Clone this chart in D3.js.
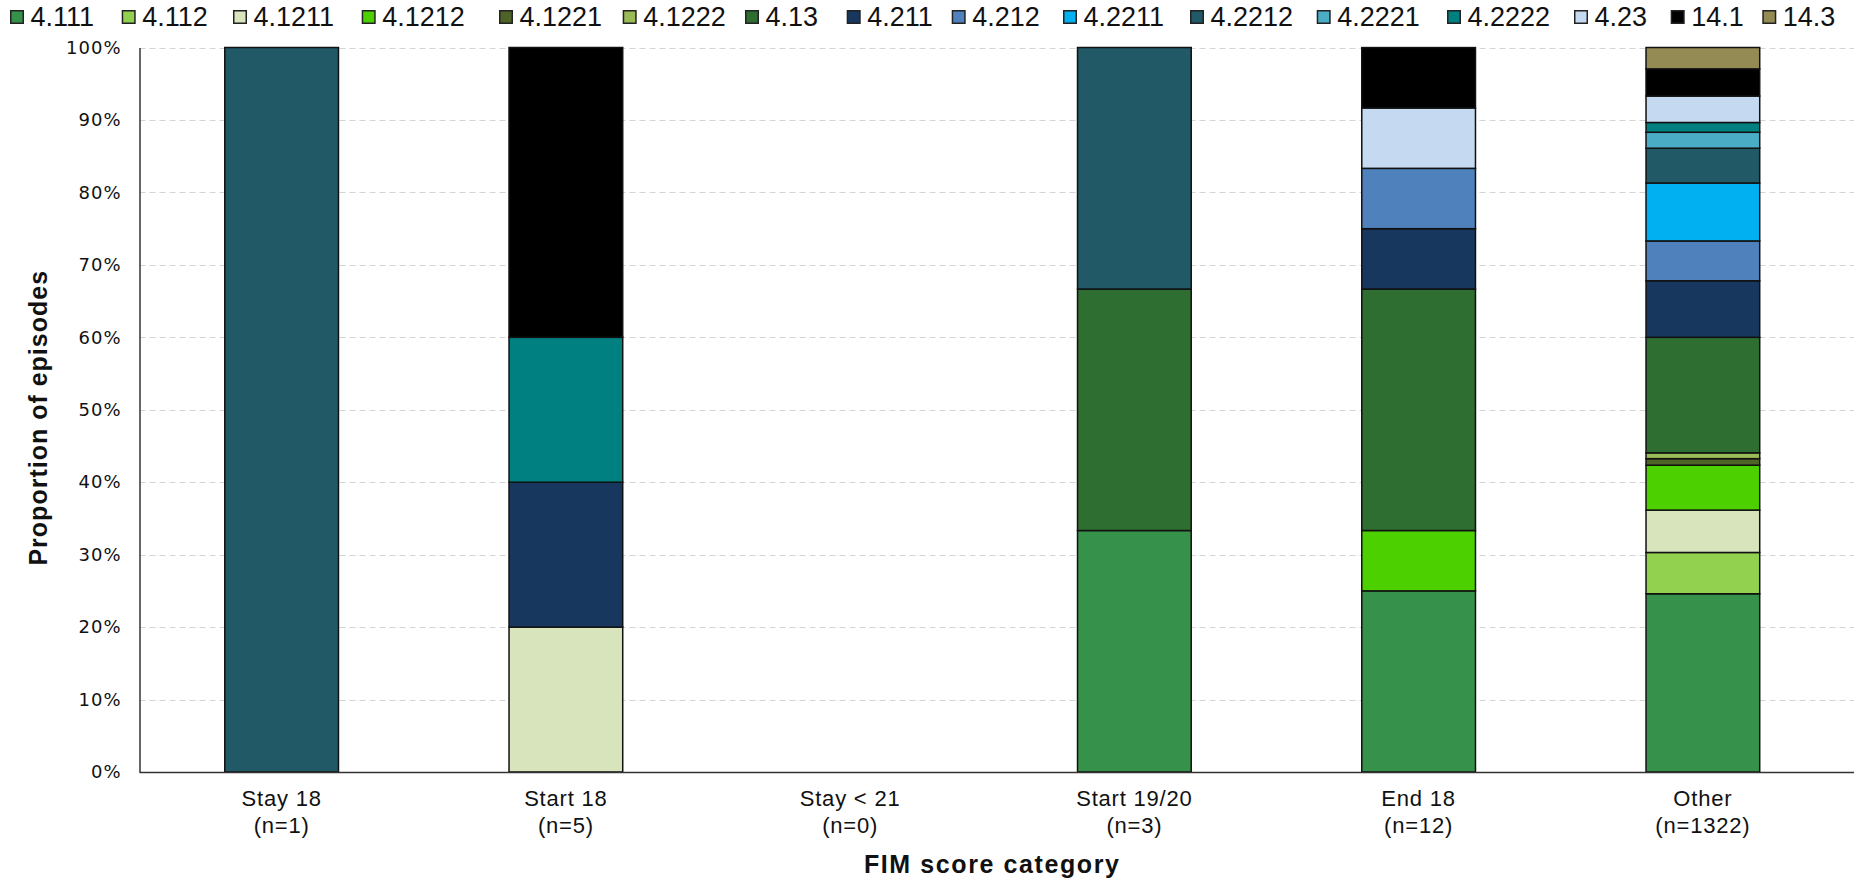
<!DOCTYPE html>
<html><head><meta charset="utf-8">
<script src="https://cdn.jsdelivr.net/npm/d3@7"></script>
<style>
html,body{margin:0;padding:0;background:#fff;}
svg{display:block;}
.narrow{font-family:"Liberation Sans",Arial,sans-serif;}
</style></head>
<body><svg id="chart" width="1854" height="879"></svg>
<script>
const categories = ["Stay 18","Start 18","Stay < 21","Start 19/20","End 18","Other"];
const counts = [1,5,0,3,12,1322];
const seriesNames = ["4.111","4.112","4.1211","4.1212","4.1221","4.1222","4.13","4.211","4.212","4.2211","4.2212","4.2221","4.2222","4.23","14.1","14.3"];
const seriesColors = ["#36924a","#92d050","#d8e4bc","#4dd000","#4f6228","#9bbb59","#2e6e31","#17375e","#4f81bd","#00b0f0","#215967","#4bacc6","#008080","#c5d9f1","#000000","#948a54"];
// percentage of episodes per category (same order as categories)
const s4_111  = [0,0,0,33.33,25,24.6];
const s4_112  = [0,0,0,0,0,5.7];
const s4_1211 = [0,20,0,0,0,5.85];
const s4_1212 = [0,0,0,0,8.33,6.2];
const s4_1221 = [0,0,0,0,0,0.9];
const s4_1222 = [0,0,0,0,0,0.8];
const s4_13   = [0,0,0,33.33,33.33,15.95];
const s4_211  = [0,20,0,0,8.33,7.8];
const s4_212  = [0,0,0,0,8.33,5.5];
const s4_2211 = [0,0,0,0,0,8.0];
const s4_2212 = [100,0,0,33.34,0,4.8];
const s4_2221 = [0,0,0,0,0,2.2];
const s4_2222 = [0,20,0,0,0,1.35];
const s4_23   = [0,0,0,0,8.33,3.65];
const s14_1   = [0,40,0,0,8.34,3.75];
const s14_3   = [0,0,0,0,0,2.95];
const yTicks = [0,10,20,30,40,50,60,70,80,90,100];

const seriesValues = [s4_111,s4_112,s4_1211,s4_1212,s4_1221,s4_1222,s4_13,s4_211,s4_212,s4_2211,s4_2212,s4_2221,s4_2222,s4_23,s14_1,s14_3];
const rows = categories.map((c,i)=>{
  const r = {cat:c};
  seriesNames.forEach((s,j)=>{ r[s] = seriesValues[j][i]; });
  return r;
});

const svg = d3.select("#chart");
const mLeft = 139.5, mRight = 1845, mTop = 47.5, mBottom = 772;
const x = d3.scaleBand().domain(categories).range([mLeft,mRight]).paddingInner(0.6).paddingOuter(0.3);
const y = d3.scaleLinear().domain([0,100]).range([mBottom,mTop]);
const color = d3.scaleOrdinal().domain(seriesNames).range(seriesColors);

// gridlines
svg.append("g").selectAll("line").data(yTicks.filter(d=>d>0)).join("line")
  .attr("x1",mLeft).attr("x2",1854)
  .attr("y1",d=>Math.round(y(d))+0.5).attr("y2",d=>Math.round(y(d))+0.5)
  .attr("stroke","#d4d4d4").attr("stroke-width",1.2).attr("stroke-dasharray","6,4");

// bars
const stack = d3.stack().keys(seriesNames)(rows);
const layer = svg.append("g").selectAll("g").data(stack).join("g").attr("fill",d=>color(d.key));
layer.selectAll("rect").data(d=>d.filter(p=>p[1]-p[0]>0)).join("rect")
  .attr("x",d=>x(d.data.cat))
  .attr("width",x.bandwidth())
  .attr("y",d=>y(d[1]))
  .attr("height",d=>y(d[0])-y(d[1]))
  .attr("stroke","#111").attr("stroke-width",1.5);

// y axis
const yAxis = d3.axisLeft(y).tickValues(yTicks).tickFormat(d=>d+"%").tickSize(0).tickPadding(18);
const ya = svg.append("g").attr("transform",`translate(${mLeft},0)`).call(yAxis);
ya.select(".domain").attr("stroke","#333").attr("stroke-width",1.5);
ya.selectAll("text").attr("font-family","DejaVu Sans, sans-serif").attr("font-size",18).attr("fill","#111").attr("letter-spacing","1px");

// x axis
const xAxis = d3.axisBottom(x).tickSize(0).tickFormat("");
const xa = svg.append("g").attr("transform",`translate(0,${mBottom})`).call(xAxis);
xa.select(".domain").attr("d",`M${mLeft},0.5H1854`).attr("stroke","#333").attr("stroke-width",1.5);
const lab = svg.append("g").attr("class","narrow");
categories.forEach((c,i)=>{
  const cx = x(c)+x.bandwidth()/2;
  const t = lab.append("text").attr("text-anchor","middle").attr("font-size",22).attr("fill","#111").attr("letter-spacing","0.8px");
  t.append("tspan").attr("x",cx).attr("y",806).text(c);
  t.append("tspan").attr("x",cx).attr("y",833).text("(n="+counts[i]+")");
});

// axis titles
svg.append("text").attr("class","narrow").attr("x",(mLeft+mRight)/2).attr("y",873)
  .attr("text-anchor","middle").attr("font-size",25).attr("font-weight","bold").attr("letter-spacing","1.6px").attr("fill","#111")
  .text("FIM score category");
svg.append("text").attr("class","narrow").attr("transform",`translate(47,${(mTop+mBottom)/2+8}) rotate(-90)`)
  .attr("text-anchor","middle").attr("font-size",25).attr("font-weight","bold").attr("letter-spacing","1px").attr("fill","#111")
  .text("Proportion of episodes");

// legend
const legendX = [10,121.7,233,361.7,499,622.7,745,846.7,951.7,1063,1190,1316.7,1447,1574,1670.7,1762.3];
const lg = svg.append("g").attr("class","narrow");
seriesNames.forEach((s,i)=>{
  const g = lg.append("g").attr("transform",`translate(${legendX[i]},0)`);
  g.append("rect").attr("x",0.75).attr("y",10.75).attr("width",12.5).attr("height",12.5).attr("fill",color(s)).attr("stroke","#222").attr("stroke-width",1.5);
  g.append("text").attr("x",20.5).attr("y",26).attr("font-size",27).attr("fill","#111").text(s);
});
</script></body></html>
